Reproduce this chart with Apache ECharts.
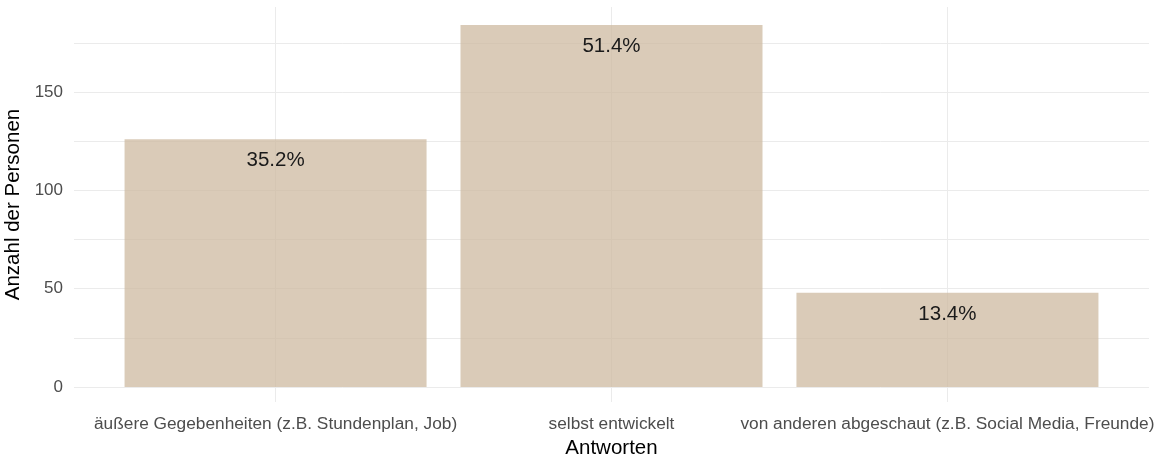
<!DOCTYPE html>
<html>
<head>
<meta charset="utf-8">
<script src="https://cdn.jsdelivr.net/npm/echarts@6/dist/echarts.min.js"></script>
<style>
html,body{margin:0;padding:0;background:#fff;}
#chart{width:1160px;height:458px;}
</style>
</head>
<body>
<div id="chart"></div>
<script>
const categories = [
  "äußere Gegebenheiten (z.B. Stundenplan, Job)",
  "selbst entwickelt",
  "von anderen abgeschaut (z.B. Social Media, Freunde)"
];
const counts = [126, 184, 48];
const yTicks = [0, 50, 100, 150];
const yGridLines = [0, 25, 50, 75, 100, 125, 150, 175];
const xPositions = [1, 2, 3];

const total = counts.reduce((a, b) => a + b, 0);
const barData = counts.map((c, i) => [xPositions[i], c]);

const gridMarks = yGridLines.map(v => ({ yAxis: v }))
  .concat(xPositions.map(v => ({ xAxis: v })));

const chart = echarts.init(document.getElementById('chart'), null, { renderer: 'canvas' });
chart.setOption({
  animation: false,
  backgroundColor: '#ffffff',
  textStyle: { fontFamily: 'Liberation Sans, Arial, sans-serif' },
  grid: { left: 74, right: 11, top: 7, bottom: 56, containLabel: false, outerBoundsMode: 'none' },
  xAxis: {
    type: 'value',
    min: 0.4,
    max: 3.6,
    axisLine: { show: false },
    axisTick: { show: false },
    splitLine: { show: false },
    axisLabel: {
      customValues: xPositions,
      formatter: v => categories[Math.round(v) - 1] || '',
      fontSize: 17.3,
      color: '#4d4d4d',
      margin: 14
    },
    name: 'Antworten',
    nameLocation: 'middle',
    nameGap: 36,
    nameTextStyle: { fontSize: 20.5, color: '#000' }
  },
  yAxis: {
    type: 'value',
    min: -7.6,
    max: 193.2,
    axisLine: { show: false },
    axisTick: { show: false },
    splitLine: { show: false },
    axisLabel: {
      customValues: yTicks,
      fontSize: 17,
      color: '#4d4d4d',
      margin: 11
    },
    name: 'Anzahl der Personen',
    nameLocation: 'middle',
    nameGap: 44,
    nameTextStyle: { fontSize: 20.5, color: '#000' }
  },
  series: [
    {
      type: 'line',
      data: [[1, 0]],
      symbol: 'none',
      lineStyle: { opacity: 0 },
      z: 0,
      silent: true,
      markLine: {
        z: 0,
        silent: true,
        symbol: 'none',
        label: { show: false },
        lineStyle: { type: 'solid', color: '#ebebeb', width: 1 },
        data: gridMarks
      }
    },
    {
      type: 'bar',
      data: barData,
      barWidth: 302,
      z: 3,
      itemStyle: { color: 'rgba(205,185,160,0.75)' },
      label: {
        show: true,
        position: 'insideTop',
        distance: 11,
        fontSize: 20.5,
        color: '#1a1a1a',
        formatter: p => (p.value[1] / total * 100).toFixed(1) + '%'
      }
    }
  ]
});
</script>
</body>
</html>
